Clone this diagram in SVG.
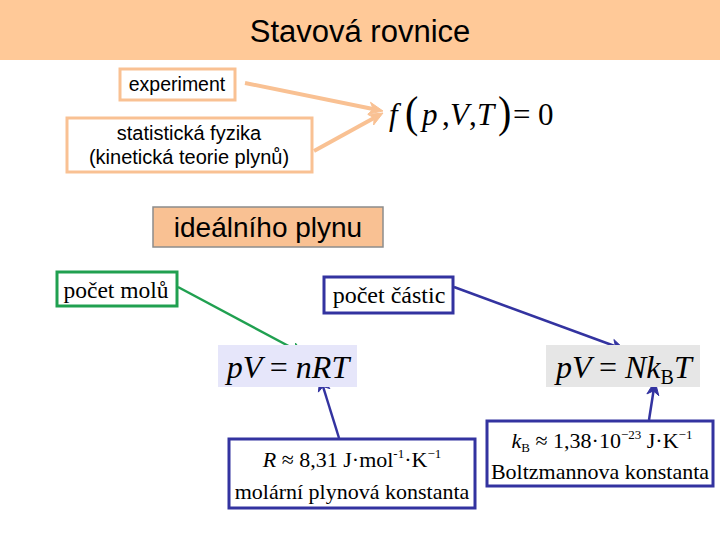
<svg xmlns="http://www.w3.org/2000/svg" width="720" height="540" viewBox="0 0 720 540">
<style>
.sans{font-family:"Liberation Sans",Arial,sans-serif;fill:#000}
.serif{font-family:"Liberation Serif","Times New Roman",serif;fill:#000}
.math{font-family:"Liberation Serif","Times New Roman",serif;font-style:italic;fill:#000}
.ob{fill:#fff;stroke:#F9C193;stroke-width:3}
.gb{fill:#fff;stroke:#20A050;stroke-width:3}
.bb{fill:#fff;stroke:#3333A0;stroke-width:3}
.lo{stroke:#F9C193;stroke-width:4;fill:none}
.lg{stroke:#20A050;stroke-width:2.5;fill:none}
.lb{stroke:#3333A0;stroke-width:2.5;fill:none}
.ho{fill:#F9C193;stroke:#F9C193;stroke-width:1;stroke-linejoin:round}
.hg{fill:#20A050;stroke:#20A050;stroke-width:1;stroke-linejoin:round}
.hb{fill:#3333A0;stroke:#3333A0;stroke-width:1;stroke-linejoin:round}
</style>
<rect width="720" height="540" fill="#fff"/>
<g id="title">
<rect x="0" y="0" width="720" height="60" fill="#FFC998"/>
<text x="360" y="42" class="sans" font-size="31" text-anchor="middle">Stavová rovnice</text>
</g>
<g id="connectors">
<line x1="245" y1="83" x2="373" y2="109" class="lo"/>
<path d="M383,111 L368.1,114.1 L373.2,109 L370.5,102.3 Z" class="ho"/>
<line x1="314" y1="151" x2="374" y2="118" class="lo"/>
<path d="M383,113 L373.6,125 L374.2,117.8 L367.8,114.4 Z" class="ho"/>
<line x1="178" y1="287" x2="296" y2="350" class="lg"/>
<path d="M305,355 L289.8,353.7 L296.2,350.3 L295.5,343.1 Z" class="hg"/>
<line x1="454" y1="287" x2="616" y2="346.5" class="lb"/>
<path d="M625,350 L609.8,350.8 L615.6,346.5 L613.9,339.5 Z" class="hb"/>
<line x1="339" y1="438" x2="323" y2="386.5" class="lb"/>
<path d="M320,377 L329.9,388.6 L323,386.5 L318.4,392.1 Z" class="hb"/>
<line x1="649" y1="420" x2="653.5" y2="391" class="lb"/>
<path d="M655,381 L658.8,395.7 L653.5,390.9 L646.9,393.9 Z" class="hb"/>
</g>
<g id="experiment">
<rect x="120" y="69" width="115" height="31" class="ob"/>
<text x="177" y="91" class="sans" font-size="19.5" text-anchor="middle">experiment</text>
</g>
<g id="statisticka">
<rect x="67" y="118" width="245" height="54" class="ob"/>
<text x="189" y="140" class="sans" font-size="20" text-anchor="middle">statistická fyzika</text>
<text x="189" y="164" class="sans" font-size="20" text-anchor="middle">(kinetická teorie plynů)</text>
</g>
<g id="rovnice" class="math" font-size="31">
<text x="389" y="125">f</text>
<text x="405" y="127" font-style="normal" font-size="40" transform="translate(405 127) scale(1 1.1) translate(-405 -127)">(</text>
<text x="422" y="125">p</text>
<text x="442" y="125" font-style="normal">,</text>
<text x="450" y="125">V</text>
<text x="469" y="125" font-style="normal">,</text>
<text x="477" y="125">T</text>
<text x="498" y="127" font-style="normal" font-size="40" transform="translate(498 127) scale(1 1.1) translate(-498 -127)">)</text>
<text x="513" y="125" font-style="normal">=</text>
<text x="538" y="125" font-style="normal">0</text>
</g>
<g id="idealni">
<rect x="153" y="207" width="230" height="40" fill="#F9C193" stroke="#8C8C8C" stroke-width="1.5"/>
<text x="268" y="237" class="sans" font-size="28" text-anchor="middle">ideálního plynu</text>
</g>
<g id="pocet-molu">
<rect x="57" y="272" width="120" height="34" class="gb"/>
<text x="116" y="298" class="serif" font-size="23.5" text-anchor="middle">počet molů</text>
</g>
<g id="pocet-castic">
<rect x="324" y="277" width="129" height="36" class="bb"/>
<text x="389" y="303" class="serif" font-size="24" text-anchor="middle">počet částic</text>
</g>
<g id="pV-nRT">
<rect x="218" y="345" width="139" height="42" fill="#E6E6FA"/>
<text x="288" y="378" class="math" font-size="32" text-anchor="middle">pV <tspan font-style="normal">=</tspan> nRT</text>
</g>
<g id="pV-NkT">
<rect x="546" y="345" width="154" height="42" fill="#E6E6E6"/>
<text x="556" y="378" class="math" font-size="32">pV <tspan font-style="normal">=</tspan> Nk<tspan font-style="normal" font-size="20" dy="6">B</tspan><tspan dy="-6">T</tspan></text>
</g>
<g id="R-konst">
<rect x="229" y="439" width="246" height="69" class="bb"/>
<text x="352" y="467" class="serif" font-size="22" text-anchor="middle"><tspan font-style="italic">R</tspan> ≈ 8,31 J·mol<tspan font-size="13" dy="-9">-1</tspan><tspan dy="9">·K</tspan><tspan font-size="13" dy="-9">−1</tspan></text>
<text x="352" y="499" class="serif" font-size="22" text-anchor="middle">molární plynová konstanta</text>
</g>
<g id="kB-konst">
<rect x="487" y="421" width="226" height="65" class="bb"/>
<text x="602" y="448" class="serif" font-size="22" text-anchor="middle"><tspan font-style="italic">k</tspan><tspan font-size="13" dy="4">B</tspan><tspan dy="-4"> ≈ 1,38·10</tspan><tspan font-size="13" dy="-9">−23</tspan><tspan dy="9"> J·K</tspan><tspan font-size="13" dy="-9">−1</tspan></text>
<text x="600" y="479" class="serif" font-size="22" text-anchor="middle">Boltzmannova konstanta</text>
</g>
</svg>
